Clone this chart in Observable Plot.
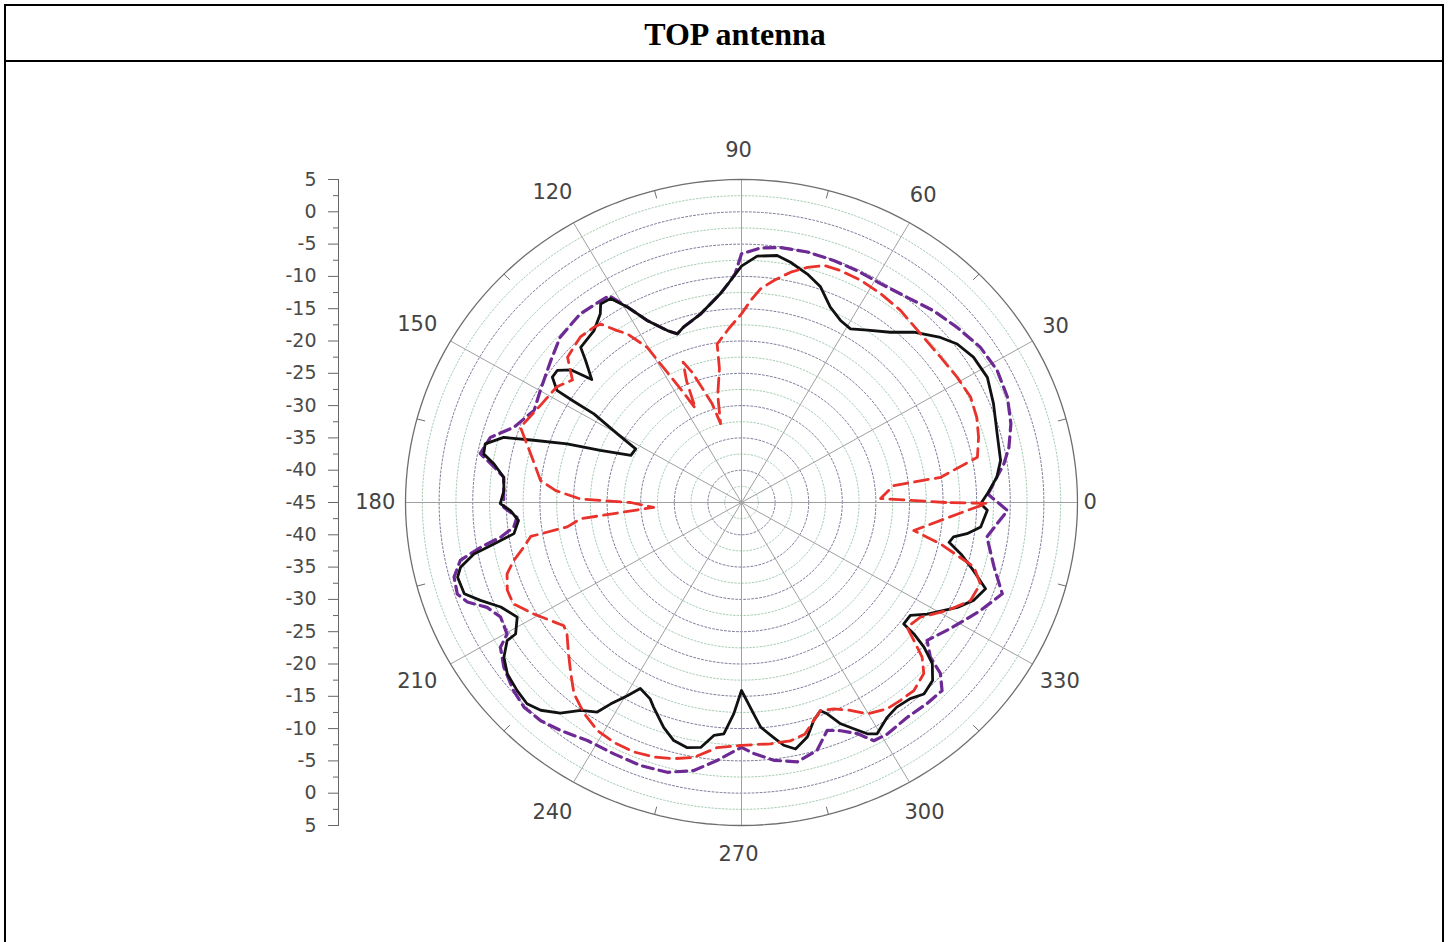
<!DOCTYPE html>
<html><head><meta charset="utf-8">
<script src="https://cdn.jsdelivr.net/npm/d3@7"></script>
<script src="https://cdn.jsdelivr.net/npm/@observablehq/plot@0.6"></script>
<style>
html,body{margin:0;padding:0;background:#fff;width:1448px;height:942px;overflow:hidden}
#frame{position:absolute;left:4px;top:4px;width:1436px;height:960px;border:2px solid #000;border-bottom:none;z-index:3;background:transparent;pointer-events:none}
#title{position:absolute;left:6px;top:6px;width:1414px;padding-left:22px;height:54px;border-bottom:2px solid #000;font:bold 32px "Liberation Serif","Times New Roman",serif;text-align:center;line-height:56px;color:#000;z-index:3}
#chart{position:absolute;left:0;top:62px;z-index:1}
</style></head><body>
<div id="frame"></div>
<div id="title">TOP antenna</div>
<div id="chart"></div>
<script>
// ---- data (angle in degrees, gain in dB) ----
const blackAngles = [2.1,5.9,9.6,15.6,22.2,27.9,33.1,37.4,40.8,45.8,50,54.9,58.9,62.4,66.4,70.6,74.5,78.9,82.1,86.5,90,92.7,95.5,101.8,107.6,110.1,112.5,116.5,119.3,121.7,124.3,125.7,129.5,134.9,136.5,139.5,141,143.3,145.4,147.7,147.9,148,150.1,152.2,156.1,159,160.7,162.7,164.1,166.6,168.9,170.8,173.7,177,180.3,182.1,184.8,188.1,189.9,191.3,193.5,195.3,198.9,201.3,204.3,208,211.2,211.5,214.1,217.3,221.1,224.3,227.1,230.4,233.4,236.5,238,240.4,242.4,245.9,247.6,251.6,254.7,257.9,260.9,263.5,265.8,268,270,273.2,274.7,277.5,279.5,281.9,285.1,287.7,290,291.3,293.3,295.5,297.6,299.4,303.1,306.1,309.6,312.5,315.9,318.7,320.5,321.6,322.1,325.2,328,333.2,336.3,339.8,343,346.3,348.7,350.4,351.8,353.9,358.1,359.7];
const blackDb = [-8.4,-6.8,-5.9,-5.5,-4.5,-3.6,-3.8,-4.6,-5.9,-8.2,-10.6,-12.4,-13.6,-13.2,-12.0,-9.6,-8.3,-7.1,-6.4,-6.8,-8.4,-10.6,-12.5,-15.2,-16.5,-17.2,-16.2,-13.5,-10.3,-7.9,-7.8,-9.0,-10.5,-11.1,-13.0,-15.7,-12.4,-10.8,-10.8,-12.5,-15.5,-19.1,-23.7,-27.2,-27.0,-22.5,-17.5,-12.6,-8.2,-5.8,-5.9,-7.7,-9.4,-9.6,-9.1,-10.6,-11.7,-10.8,-7.6,-4.4,-2.0,-1.2,-1.4,-3.3,-5.7,-7.2,-5.7,-4.1,-2.3,-1.2,-0.7,-0.4,-1.1,-2.7,-4.9,-6.1,-8.2,-10.6,-12.5,-11.7,-10.7,-8.3,-6.8,-6.2,-6.6,-8.7,-9.1,-12.3,-15.9,-12.2,-10.1,-8.3,-6.9,-6.0,-7.4,-9.6,-10.7,-9.9,-7.7,-6.2,-4.6,-3.9,-5.3,-5.8,-5.6,-4.8,-5.4,-7.2,-9.8,-12.3,-14.4,-14.4,-12.4,-9.0,-7.3,-6.3,-8.9,-11.4,-13.5,-13.0,-11.1,-9.2,-8.4,-9.4];

const purpleAngles = [2,5.9,8.7,12.1,16.9,22.4,28.3,34.1,40.2,46.1,52.2,58.6,64.4,69.9,75.8,81.6,85.9,90,91.5,92.7,95.5,101.8,107.6,110.1,112.5,116.5,119.3,121.6,123.9,129.4,136.5,142.2,149.9,155.2,161,164.9,169,171.4,173.7,181.2,183.9,186.4,188.5,190.1,192.1,195.1,198.5,200.7,203.2,206.3,210.3,212,215.8,220.6,224.4,228.5,232.6,238.1,244,249.7,255.2,260.3,264.8,270,272.7,276.9,281.7,286.3,289.9,292.7,295.7,298.1,301.2,306.6,311.6,315.7,318.2,319.6,322.3,327.9,334.8,340,345.1,351.7,358.2];
const purpleDb = [-8.3,-6.8,-5.5,-4.3,-3.1,-2.2,-1.8,-2.1,-3.0,-3.8,-4.8,-5.3,-5.2,-5.1,-5.0,-5.1,-5.5,-6.5,-9.5,-10.6,-12.5,-15.2,-16.5,-17.2,-16.2,-13.5,-10.3,-7.4,-7.4,-7.2,-7.8,-9.1,-10.4,-11.0,-9.2,-6.3,-5.4,-7.7,-9.4,-9.6,-11.5,-10.9,-8.8,-5.6,-2.2,-0.7,-0.4,-1.4,-3.8,-5.0,-4.6,-2.7,-1.4,-0.3,0.3,0.1,-0.6,-1.6,-1.7,-1.6,-1.8,-2.9,-4.9,-7.1,-6.1,-4.8,-4.0,-5.0,-7.5,-6.7,-5.3,-3.2,-3.1,-3.6,-3.4,-3.3,-5.3,-8.1,-10.1,-8.3,-5.7,-3.7,-6.1,-8.1,-5.4];

const redAngles = [0,1.7,6.6,7.5,11.3,16,20.6,25.6,31.1,37.2,44.4,51.5,57.4,62.7,67.7,71.5,74.9,78.4,82,85.1,87.5,90,94,98.4,99,102,104.3,106,110,111.8,113.5,115.2,116.9,120.3,123.1,124.8,127.2,129,133.1,139,143,146.9,153.4,160.5,166.4,173.5,176.2,178.7,180,183.3,186,188.3,189.5,192,194.9,197.6,201.3,204.8,209.2,212.7,215.8,218.1,222.3,226.2,229.9,234.4,238.7,242.9,247.5,251.7,255.8,259.8,264.6,270,276.6,281.2,284.7,287.7,290,293.3,296.7,299.8,304.2,307.7,311.4,315.7,318.3,320.2,321.9,326.3,331.4,336,340.5,343.9,347.8,350.4,357.9,359.8];
const redDb = [-14.6,-24.3,-22.2,-15.1,-9.2,-8.3,-7.6,-7.2,-7.5,-7.8,-7.7,-7.0,-6.6,-6.3,-6.2,-6.3,-7.3,-8.6,-10.3,-11.8,-13.7,-15.8,-18.0,-20.2,-24.0,-28.0,-32.4,-29.0,-23.6,-21.6,-24.5,-28.9,-25.9,-17.2,-13.8,-12.6,-10.3,-10.1,-9.9,-10.7,-13.5,-12.2,-11.5,-10.1,-12.7,-14.9,-17.3,-21.0,-28.5,-31.9,-20.9,-18.8,-13.2,-11.9,-9.9,-8.4,-7.6,-7.6,-9.6,-11.2,-12.4,-12.0,-10.2,-8.3,-6.3,-4.8,-3.7,-3.3,-3.2,-3.5,-4.1,-4.9,-6.9,-7.4,-7.4,-7.4,-7.9,-9.6,-10.7,-10.2,-9.0,-7.3,-6.4,-6.3,-6.2,-7.1,-9.0,-11.6,-13.7,-13.0,-10.1,-7.7,-7.3,-9.0,-14.7,-19.0,-11.4,-8.4];

// ---- axes / grid values ----
const dbMin = -45, dbMax = 5;
const majorRingDb = [-40,-35,-30,-25,-20,-15,-10,-5,0];
const minorRingDb = [-42.5,-37.5,-32.5,-27.5,-22.5,-17.5,-12.5,-7.5,-2.5,2.5];
const yTickDb = [-45,-40,-35,-30,-25,-20,-15,-10,-5,0,5];
const spokeAngles = [0,30,60,90,120,150,180,210,240,270,300,330];
const spokeLabels = ["0","30","60","90","120","150","180","210","240","270","300","330"];
const edgeTickAngles = [15,45,75,105,135,165,195,225,255,285,315,345];

// ---- geometry helpers ----
const RAD = Math.PI / 180;
const R = dbMax - dbMin;
const toR = d => d - dbMin;
const polar = (a, r) => ({x: r * Math.cos(a * RAD), y: r * Math.sin(a * RAD)});
function seriesPts(angles, dbs) {
  const pts = angles.map((a, i) => polar(a, toR(dbs[i])));
  pts.push(pts[0]);
  return pts;
}
function ringPts(list) {
  const out = [];
  for (const d of list) for (let a = 0; a <= 360; a += 2) out.push({...polar(a, toR(d)), ring: d});
  return out;
}
const outer = ringPts([dbMax]);
const spokes = spokeAngles.map(a => ({x1: 0, y1: 0, x2: polar(a, R).x, y2: polar(a, R).y}));
const edgeTicks = edgeTickAngles.map(a => ({x1: polar(a, R).x, y1: polar(a, R).y, x2: polar(a, R * 0.975).x, y2: polar(a, R * 0.975).y}));
const angleLbls = spokeAngles.map((a, i) => {
  const t = spokeLabels[i];
  const k = 1.03 + 0.017 * t.length * Math.abs(Math.cos(a * RAD)) + 0.06 * Math.abs(Math.sin(a * RAD));
  return {...polar(a, R * k), t};
});
const majorTicks = [], minorTicks = [];
for (const d of yTickDb) { majorTicks.push(toR(d)); if (d !== dbMin) majorTicks.push(-toR(d)); }
for (const d of minorRingDb) { minorTicks.push(toR(d)); minorTicks.push(-toR(d)); }

const W = 1448, H = 880, cx = 741, cy = 440, rx = 336, ry = 323;
const chart = Plot.plot({
  width: W, height: H,
  marginLeft: 338, marginTop: cy - ry, marginBottom: H - (cy + ry), marginRight: W - (cx + rx),
  x: {domain: [-R, R], range: [cx - rx, cx + rx], axis: null},
  y: {domain: [-R, R], range: [cy + ry, cy - ry], axis: null},
  style: {fontFamily: "'DejaVu Sans', Verdana, sans-serif", background: "transparent", overflow: "visible"},
  marks: [
    Plot.line(ringPts(minorRingDb), {x: "x", y: "y", z: "ring", stroke: "#a6ccb2", strokeWidth: 1, strokeDasharray: "1.5,2"}),
    Plot.line(ringPts(majorRingDb), {x: "x", y: "y", z: "ring", stroke: "#7e7e9c", strokeWidth: 1, strokeDasharray: "2,2"}),
    Plot.link(spokes, {x1: "x1", y1: "y1", x2: "x2", y2: "y2", stroke: "#a0a0a0", strokeWidth: 1}),
    Plot.line(outer, {x: "x", y: "y", stroke: "#6e6e6e", strokeWidth: 1.3}),
    Plot.link(edgeTicks, {x1: "x1", y1: "y1", x2: "x2", y2: "y2", stroke: "#6e6e6e", strokeWidth: 1}),
    Plot.text(angleLbls, {x: "x", y: "y", text: "t", fontSize: 21, fill: "#444", dx: -3}),
    Plot.frame({anchor: "left", stroke: "#666"}),
    Plot.axisY(minorTicks, {anchor: "left", tickSize: 5, tickFormat: () => "", stroke: "#666", label: null}),
    Plot.axisY(majorTicks, {anchor: "left", tickSize: 10, tickPadding: 12, fontSize: 19, color: "#4a4a4a", stroke: "#666",
      tickFormat: v => String(Math.round(Math.abs(v)) + dbMin), label: null}),
    Plot.line(seriesPts(purpleAngles, purpleDb), {x: "x", y: "y", stroke: "#6d2a94", strokeWidth: 3.2, strokeDasharray: "11,6"}),
    Plot.line(seriesPts(blackAngles, blackDb), {x: "x", y: "y", stroke: "#111", strokeWidth: 2.8}),
    Plot.line(seriesPts(redAngles, redDb), {x: "x", y: "y", stroke: "#e8322b", strokeWidth: 2.8, strokeDasharray: "14,7"})
  ]
});
document.getElementById("chart").appendChild(chart);
</script>
</body></html>
